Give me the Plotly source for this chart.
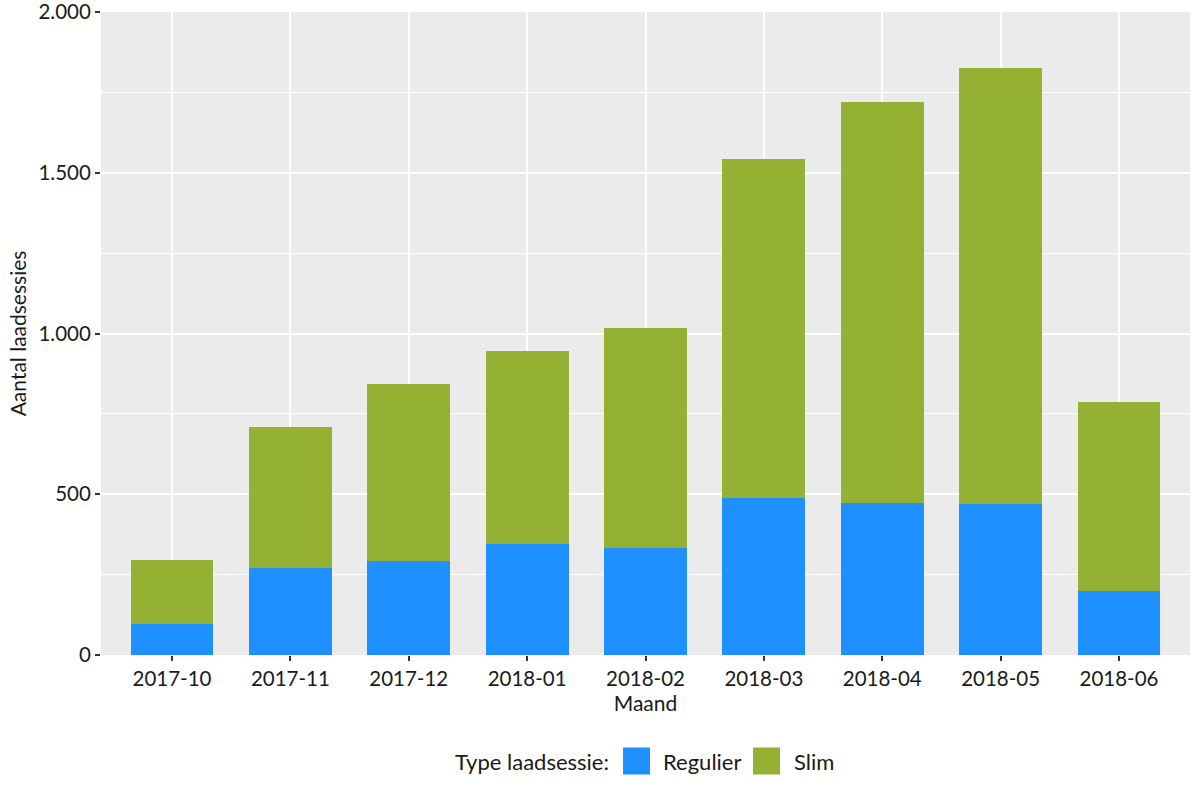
import plotly.graph_objects as go

months = ["2017-10", "2017-11", "2017-12", "2018-01", "2018-02",
          "2018-03", "2018-04", "2018-05", "2018-06"]
regulier = [96, 271, 292, 345, 333, 488, 473, 470, 199]
slim = [199, 438, 551, 601, 684, 1055, 1247, 1356, 588]

y_tickvals = [0, 500, 1000, 1500, 2000]
y_ticktext = ["0", "500", "1.000", "1.500", "2.000"]

BLUE = "#1E90FF"
GREEN = "#94B133"
FONT = "Lato, 'Open Sans', sans-serif"
FS_TICK = 20.5
FS_TITLE = 21
FS_LEG = 22

W, H = 1200, 800
ML, MT = 101, 12
MR = W - 1190
MB = H - 655
PW, PH = W - ML - MR, H - MT - MB


def px_x(px):
    return (px - ML) / PW


def px_y(py):
    return (H - MB - py) / PH


fig = go.Figure()
fig.add_trace(go.Bar(x=months, y=regulier, name="Regulier", showlegend=False,
                     marker=dict(color=BLUE, line=dict(width=0)), width=0.7))
fig.add_trace(go.Bar(x=months, y=slim, name="Slim", showlegend=False,
                     marker=dict(color=GREEN, line=dict(width=0)), width=0.7))

# manual legend (ggplot style, bottom)
shapes = []
annotations = []
legend_y = 761
annotations.append(dict(text="Type laadsessie:", xref="paper", yref="paper",
                        x=px_x(611), y=px_y(legend_y), xanchor="right", yanchor="middle",
                        showarrow=False, font=dict(size=FS_LEG, family=FONT, color="#1a1a1a")))
for x0, color, label, tx in [(623, BLUE, "Regulier", 661), (753, GREEN, "Slim", 792)]:
    shapes.append(dict(type="rect", xref="paper", yref="paper",
                       x0=px_x(x0), x1=px_x(x0 + 27), y0=px_y(legend_y - 13.5), y1=px_y(legend_y + 13.5),
                       fillcolor=color, line=dict(width=0)))
    annotations.append(dict(text=label, xref="paper", yref="paper",
                            x=px_x(tx), y=px_y(legend_y), xanchor="left", yanchor="middle",
                            showarrow=False, font=dict(size=FS_LEG, family=FONT, color="#1a1a1a")))

fig.update_layout(
    barmode="stack",
    width=W, height=H,
    margin=dict(l=ML, r=MR, t=MT, b=MB, autoexpand=False),
    paper_bgcolor="white",
    plot_bgcolor="#EBEBEB",
    font=dict(family=FONT, size=FS_TICK, color="#1a1a1a"),
    showlegend=False,
    shapes=shapes,
    annotations=annotations,
    xaxis=dict(
        type="category", range=[-0.6, 8.6],
        showgrid=True, gridcolor="white", gridwidth=1.6,
        ticks="outside", ticklen=5, tickcolor="#333333", tickwidth=1.5,
        tickfont=dict(size=FS_TICK, color="#1a1a1a"),
        title=dict(text="Maand", font=dict(size=FS_TITLE), standoff=0),
        zeroline=False, showline=False,
    ),
    yaxis=dict(
        range=[0, 2000],
        tickvals=y_tickvals, ticktext=y_ticktext,
        ticklabeloverflow="allow",
        showgrid=True, gridcolor="white", gridwidth=1.6,
        minor=dict(dtick=250, showgrid=True, gridcolor="white", gridwidth=0.8),
        ticks="outside", ticklen=5, tickcolor="#333333", tickwidth=1.5,
        tickfont=dict(size=FS_TICK, color="#1a1a1a"),
        title=dict(text="Aantal laadsessies", font=dict(size=FS_TITLE), standoff=6),
        zeroline=False, showline=False,
    ),
)

# remove the default page margin so the figure fills the window exactly
fig.write_html("out.html", config={"displayModeBar": False},
               post_script="document.body.style.margin='0px';")
